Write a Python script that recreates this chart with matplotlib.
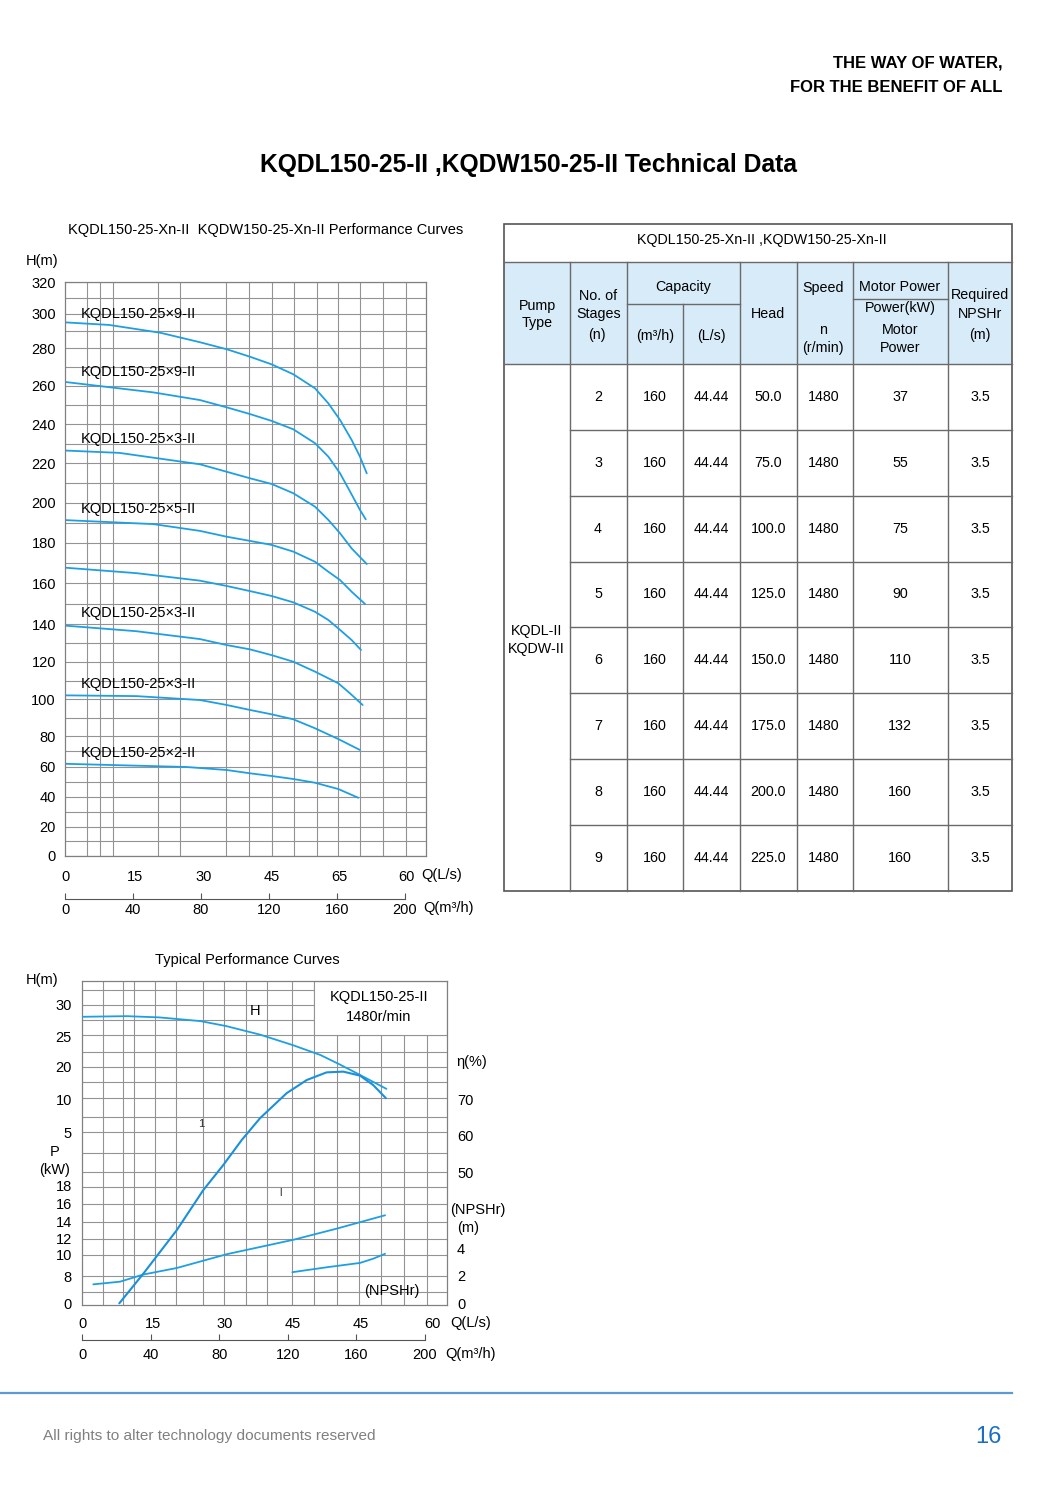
import numpy as np
import matplotlib
matplotlib.use("Agg")
import matplotlib.pyplot as plt
from matplotlib.ticker import FixedLocator, NullLocator
from matplotlib.patches import Rectangle

plt.rcParams['font.family'] = ['Liberation Sans', 'DejaVu Sans']

# ---------------- DATA ----------------
# Top chart: Q (m3/h) vs H (m) for each curve
top_labels = ['KQDL150-25×9-II', 'KQDL150-25×9-II', 'KQDL150-25×3-II', 'KQDL150-25×5-II',
              'KQDL150-25×3-II', 'KQDL150-25×3-II', 'KQDL150-25×2-II']
top_label_h = [300, 267.5, 232.4, 196.7, 145.4, 108.1, 69.1]
c1_q = [0, 26, 56, 79.4, 95.1, 108.8, 121.6, 134.3, 147.1, 154.9, 161.8, 168.6, 173.5, 177.5]
c1_h = [295, 293.5, 289, 283.5, 279.5, 275.5, 271.4, 266.1, 258.6, 250.8, 242.1, 231.9, 223.4, 214.9]
c2_q = [0, 52, 79.4, 95.1, 108.8, 121.6, 134.3, 147.1, 154.9, 161.8, 168.6, 173.5, 176.9]
c2_h = [262, 256.5, 252.5, 248.7, 245.2, 241.6, 237.3, 230.2, 223.4, 214.9, 204.2, 196.4, 191.7]
c3_q = [0, 32, 79.4, 95.1, 108.8, 121.6, 134.3, 147.1, 154.9, 161.8, 168.6, 177.5]
c3_h = [226.5, 225.3, 219.5, 215.7, 212.4, 209.5, 204.8, 198, 191.4, 184.7, 177.2, 169.5]
c4_q = [0, 52, 79.4, 95.1, 108.8, 121.6, 134.3, 147.1, 154.9, 161.8, 168.6, 176.5]
c4_h = [191.3, 189.3, 185.9, 183, 180.9, 178.9, 175.6, 170.6, 165.7, 161.6, 155.9, 149.9]
c5_q = [0, 42, 79.4, 95.1, 108.8, 121.6, 134.3, 147.1, 154.9, 161.8, 168.6, 174.1]
c5_h = [167.7, 165, 161.3, 158.7, 156.2, 153.8, 150.7, 146.1, 142.1, 137, 131.6, 126.3]
c6_q = [0, 42, 79.4, 95.1, 108.8, 121.6, 134.3, 147.1, 160.8, 167.6, 175.1]
c6_h = [139.3, 136.3, 132.1, 128.9, 126.6, 123.5, 120, 114.7, 108.5, 103.2, 96.9]
c7_q = [0, 42, 79.4, 95.1, 108.8, 121.6, 134.3, 147.1, 160.8, 173.5]
c7_h = [102.1, 101.7, 99.6, 96.9, 94.2, 91.8, 89.1, 84.2, 78, 70.9]
c8_q = [0, 71.5, 95.1, 108.8, 121.6, 134.3, 147.1, 160.8, 172.5]
c8_h = [61.9, 59.8, 57.8, 55.6, 53.8, 51.8, 49.3, 45.1, 39.3]
top_h_ticks = [0, 20, 40, 60, 80, 100, 120, 140, 160, 180, 200, 220, 240, 260, 280, 300, 320]
top_ls_labels = ['0', '15', '30', '45', '65', '60']
m3h_ticks = [0, 40, 80, 120, 160, 200]

# Bottom chart (typical curves)
h_q = [0, 26, 45, 69, 84, 104, 123, 139, 150, 162, 177.5]
h_h = [28.1, 28.2, 28.0, 27.4, 26.6, 25.2, 23.5, 21.9, 20.4, 17.5, 13.2]
eta_q = [21.6, 35.6, 55.1, 70.6, 82.3, 93.0, 103.7, 119.3, 131.0, 142.6, 152.3, 162.1, 169.8, 177.2]
eta_v = [0, 11.3, 27.9, 43.2, 52.0, 58.8, 64.8, 71.7, 75.3, 77.4, 77.6, 76.5, 73.9, 70.3]
p_q = [6.4, 22.0, 35.6, 55.1, 84.3, 123.1, 148.5, 176.7]
p_v = [5.7, 6.5, 8.2, 8.8, 10.1, 11.9, 13.2, 14.7]
npsh_q = [122.6, 142.6, 162.1, 169.8, 176.7]
npsh_v = [2.25, 2.62, 2.95, 3.27, 3.64]
bh_ticks = [5, 10, 20, 25, 30]
bp_ticks = [0, 8, 10, 12, 14, 16, 18]
beta_ticks = [50, 60, 70]
bn_ticks = [0, 2, 4]
bot_ls_labels = ['0', '15', '30', '45', '45', '60']

# Table
stages = [2, 3, 4, 5, 6, 7, 8, 9]
cap_m3h = [160] * 8
cap_ls = ['44.44'] * 8
head = ['50.0', '75.0', '100.0', '125.0', '150.0', '175.0', '200.0', '225.0']
speed = [1480] * 8
motor_kw = [37, 55, 75, 90, 110, 132, 160, 160]
npshr = ['3.5'] * 8

# ---------------- LAYOUT ----------------
W, HH = 1055, 1491
fig = plt.figure(figsize=(W / 100, HH / 100), dpi=100)
BLUE = '#1e9fe3'
GRID = '#939393'


def rect(x0, y0, x1, y1):
    return [x0 / W, 1 - y1 / HH, (x1 - x0) / W, (y1 - y0) / HH]


def piecewise(vals, pxs):
    v = np.asarray(vals, float)
    p = np.asarray(pxs, float)
    s0 = (p[1] - p[0]) / (v[1] - v[0])
    s1 = (p[-1] - p[-2]) / (v[-1] - v[-2])

    def fwd(x):
        x = np.asarray(x, float)
        out = np.interp(x, v, p)
        out = np.where(x < v[0], p[0] + (x - v[0]) * s0, out)
        out = np.where(x > v[-1], p[-1] + (x - v[-1]) * s1, out)
        return -out

    def inv(u):
        q = -np.asarray(u, float)
        out = np.interp(q, p[::-1], v[::-1])
        out = np.where(q > p[0], v[0] + (q - p[0]) / s0, out)
        out = np.where(q < p[-1], v[-1] + (q - p[-1]) / s1, out)
        return out
    return fwd, inv


# page axes (pixel coordinates) for text
pg = fig.add_axes([0, 0, 1, 1])
pg.set_xlim(0, W)
pg.set_ylim(HH, 0)
pg.axis('off')

pg.text(1003, 63, 'THE WAY OF WATER,', ha='right', va='center', fontsize=12, fontweight='bold')
pg.text(1003, 87, 'FOR THE BENEFIT OF ALL', ha='right', va='center', fontsize=12,
        fontweight='bold')
pg.text(528, 165, 'KQDL150-25-II ,KQDW150-25-II Technical Data', ha='center', va='center',
        fontsize=17.7, fontweight='bold')

# footer
pg.plot([0, 1012], [1393, 1393], color='#5b9bd5', lw=1.6)
pg.text(43, 1436, 'All rights to alter technology documents reserved', ha='left', va='center',
        fontsize=11.1, color='#808080')
pg.text(988, 1437, '16', ha='center', va='center', fontsize=17, color='#1a6fc4')

# ---------------- TOP CHART ----------------
TX0, TX1, TY0, TY1 = 65, 426, 282.3, 855.7
top_px = [855.7, 826.7, 796.7, 766.7, 736, 699.3, 661.7, 624.3, 583.3, 542.7, 502.7,
          463.3, 424, 385.7, 348.3, 313.7, 282.3]
xmax_top = (TX1 - TX0) / 1.7
axA = fig.add_axes(rect(TX0, TY0, TX1, TY1))
fA, iA = piecewise(top_h_ticks, top_px)
axA.set_yscale('function', functions=(fA, iA))
axA.set_ylim(0, 320)
axA.set_xlim(0, xmax_top)
axA.set_yticks(top_h_ticks)
axA.yaxis.set_minor_locator(FixedLocator(np.arange(0, 321, 10)))
vgrid_top = [12.8, 20.6, 28.1, 41.2, 54.5, 67.6, 81.4, 94.5, 108.2, 121.6, 134.7, 148.1,
             160.8, 173.5, 187.2, 200.4]
axA.set_xticks([0, 41.2, 81.4, 121.9, 161.2, 201.0], labels=top_ls_labels)
axA.xaxis.set_minor_locator(FixedLocator(vgrid_top))
axA.tick_params(which='both', length=0)
axA.tick_params(axis='y', pad=6.5, labelsize=10.5)
axA.tick_params(axis='x', pad=10, labelsize=10.5)
axA.yaxis.grid(True, which='both', color=GRID, lw=0.8)
axA.xaxis.grid(True, which='minor', color=GRID, lw=0.8)
axA.set_axisbelow(True)
for s in axA.spines.values():
    s.set_color('#808080')
    s.set_linewidth(0.9)
for q, h in [(c1_q, c1_h), (c2_q, c2_h), (c3_q, c3_h), (c4_q, c4_h), (c5_q, c5_h),
             (c6_q, c6_h), (c7_q, c7_h), (c8_q, c8_h)]:
    axA.plot(q, h, color=BLUE, lw=1.3, solid_capstyle='round', solid_joinstyle='round')
for lab, yh in zip(top_labels, top_label_h):
    axA.text(9.2, yh, lab, fontsize=10.5, va='center', ha='left')

axB = fig.add_axes(rect(TX0, 880, TX1, 899.3))
axB.set_xlim(0, xmax_top)
axB.patch.set_visible(False)
for k in ['top', 'left', 'right']:
    axB.spines[k].set_visible(False)
axB.spines['bottom'].set_bounds(0, 200)
axB.spines['bottom'].set_color('#555555')
axB.set_yticks([])
axB.set_xticks(m3h_ticks)
axB.tick_params(axis='x', direction='in', length=4, pad=3, labelsize=10.5, color='#555555')

pg.text(421.7, 875, 'Q(L/s)', ha='left', va='center', fontsize=10.5)
pg.text(423, 908, 'Q(m³/h)', ha='left', va='center', fontsize=10.5)
pg.text(42.5, 260.5, 'H(m)', ha='center', va='center', fontsize=10.5)
pg.text(266, 230, 'KQDL150-25-Xn-II  KQDW150-25-Xn-II Performance Curves', ha='center',
        va='center', fontsize=10.5)

# ---------------- BOTTOM CHART ----------------
BX0, BX1, BY0, BY1 = 82.3, 446.7, 981, 1305
xmax_bot = (BX1 - BX0) / 1.7135
axC = fig.add_axes(rect(BX0, BY0, BX1, BY1))
axC.set_xlim(0, xmax_bot)
axC.set_ylim(BY1, BY0)
hgrid_bot = [990, 1005, 1020, 1035, 1051.7, 1066.7, 1082.3, 1098.3, 1116.7, 1132.3, 1153.3,
             1171.7, 1186.7, 1204, 1221.7, 1239, 1255, 1276, 1291.7]
vgrid_bot = [12.0, 24.0, 30.2, 42.4, 54.7, 70.3, 82.9, 95.4, 107.6, 122.6, 135.2, 148.5,
             161.5, 174.1, 187.9, 201.0]
axC.set_yticks([])
axC.yaxis.set_minor_locator(FixedLocator(hgrid_bot))
axC.set_xticks([0, 41.4, 83.1, 123, 162.5, 204.1], labels=bot_ls_labels)
axC.xaxis.set_minor_locator(FixedLocator(vgrid_bot))
axC.tick_params(which='both', length=0)
axC.tick_params(axis='x', pad=9, labelsize=10.5)
axC.yaxis.grid(True, which='minor', color=GRID, lw=0.8)
axC.xaxis.grid(True, which='minor', color=GRID, lw=0.8)
axC.set_axisbelow(True)
for s in axC.spines.values():
    s.set_color('#808080')
    s.set_linewidth(0.9)
axC.add_patch(Rectangle((135.2, BY0), xmax_bot - 135.2, 1035 - BY0, facecolor='white',
                        edgecolor=GRID, lw=0.8, zorder=1.5))


def overlay(vals, pxs, side, ticks, pad):
    ax = fig.add_axes(rect(BX0, BY0, BX1, BY1))
    ax.patch.set_visible(False)
    for s in ax.spines.values():
        s.set_visible(False)
    ax.set_xlim(0, xmax_bot)
    f, i = piecewise(vals, pxs)
    ax.set_yscale('function', functions=(f, i))
    ax.set_ylim(float(i(-BY1)), float(i(-BY0)))
    ax.set_xticks([])
    ax.set_yticks(ticks)
    ax.yaxis.set_minor_locator(NullLocator())
    ax.yaxis.set_ticks_position(side)
    ax.tick_params(axis='y', length=0, pad=pad, labelsize=10.5)
    return ax


axH = overlay([5, 10, 20, 25, 30], [1132.3, 1099.3, 1066.7, 1036, 1005], 'left', bh_ticks, 7.5)
axP = overlay([0, 8, 10, 12, 14, 16, 18], [1303.3, 1276.7, 1255, 1239, 1221.7, 1203.3, 1185.7],
              'left', bp_ticks, 7.5)
axE = overlay([0, 50, 60, 70], [1303.3, 1172.3, 1135.7, 1099.3], 'right', beta_ticks, 7.5)
axN = overlay([0, 2, 4], [1303.3, 1275.5, 1249], 'right', bn_ticks, 7.5)

kw = dict(solid_joinstyle='round', solid_capstyle='round')
axH.plot(h_q, h_h, color=BLUE, lw=1.3, **kw)
axE.plot(eta_q, eta_v, color='#1a90dc', lw=1.5, **kw)
axP.plot(p_q, p_v, color=BLUE, lw=1.3, **kw)
axN.plot(npsh_q, npsh_v, color=BLUE, lw=1.3, **kw)

axD = fig.add_axes(rect(BX0, 1322, BX1, 1340))
axD.set_xlim(0, xmax_bot)
axD.patch.set_visible(False)
for k in ['top', 'left', 'right']:
    axD.spines[k].set_visible(False)
axD.spines['bottom'].set_bounds(0, 200)
axD.spines['bottom'].set_color('#555555')
axD.set_yticks([])
axD.set_xticks(m3h_ticks)
axD.tick_params(axis='x', direction='in', length=4, pad=5.5, labelsize=10.5, color='#555555')

pg.text(247.5, 960, 'Typical Performance Curves', ha='center', va='center', fontsize=10.5)
pg.text(42, 980, 'H(m)', ha='center', va='center', fontsize=10.5)
pg.text(55, 1152, 'P', ha='center', va='center', fontsize=10.5)
pg.text(55, 1170, '(kW)', ha='center', va='center', fontsize=10.5)
pg.text(456.7, 1062, 'η(%)', ha='left', va='center', fontsize=10.5)
pg.text(450, 1210, '(NPSHr)', ha='left', va='center', fontsize=10.5)
pg.text(456.7, 1228, '(m)', ha='left', va='center', fontsize=10.5)
pg.text(450, 1323, 'Q(L/s)', ha='left', va='center', fontsize=10.5)
pg.text(445, 1354, 'Q(m³/h)', ha='left', va='center', fontsize=10.5)

# texts inside the bottom chart (drawn above the overlay axes)
tx = fig.add_axes([0, 0, 1, 1])
tx.set_xlim(0, W)
tx.set_ylim(HH, 0)
tx.axis('off')
tx.text(379, 997, 'KQDL150-25-II', ha='center', va='center', fontsize=10.5)
tx.text(379, 1017, '1480r/min', ha='center', va='center', fontsize=10.5)
tx.text(255, 1011, 'H', ha='center', va='center', fontsize=10.5)
tx.text(391.7, 1290.7, '(NPSHr)', ha='center', va='center', fontsize=10.5)
tx.text(201.7, 1124, '1', ha='center', va='center', fontsize=8, color='#333333')
tx.text(280, 1193, 'l', ha='center', va='center', fontsize=8, color='#333333')

# ---------------- TABLE ----------------
L, R, T, T1, HB, B = 504, 1011.7, 224, 261.7, 364, 890.7
cols = [570, 626.7, 683.3, 740, 796.7, 853, 948.3]
LC = '#6a6a6a'
tx.add_patch(Rectangle((L, T1), R - L, HB - T1, facecolor='#d7ebf8', edgecolor='none'))
tx.add_patch(Rectangle((L, T), R - L, B - T, facecolor='none', edgecolor='#555555', lw=1.2))
tx.plot([L, R], [T1, T1], color=LC, lw=1)
tx.plot([L, R], [HB, HB], color=LC, lw=1)
for c in cols:
    y0 = 304 if c == 683.3 else T1
    tx.plot([c, c], [y0, B], color=LC, lw=1)
tx.plot([626.7, 740], [304, 304], color=LC, lw=1)
tx.plot([853, 948.3], [299.3, 299.3], color=LC, lw=1)
rh = (B - HB) / len(stages)
for k in range(1, len(stages)):
    tx.plot([570, R], [HB + k * rh, HB + k * rh], color=LC, lw=1)

fs = 10.3
tx.text(762, 240, 'KQDL150-25-Xn-II ,KQDW150-25-Xn-II', ha='center', va='center', fontsize=fs)
hdr = [(537.3, 306, 'Pump'), (537.3, 323.3, 'Type'),
       (598.3, 296, 'No. of'), (598.3, 314.3, 'Stages'), (597.3, 335, '(n)'),
       (682.7, 286.7, 'Capacity'), (655, 336, '(m³/h)'), (711.7, 336, '(L/s)'),
       (768.3, 314.3, 'Head'),
       (823.3, 288.3, 'Speed'), (823.3, 330, 'n'), (823.3, 348.3, '(r/min)'),
       (900, 286.7, 'Motor Power'), (900, 308.3, 'Power(kW)'), (900, 330, 'Motor'),
       (900, 347.7, 'Power'),
       (980, 295, 'Required'), (980, 314.3, 'NPSHr'), (980, 335, '(m)')]
for x, y, t in hdr:
    tx.text(x, y, t, ha='center', va='center', fontsize=fs)
tx.text(536.7, 631, 'KQDL-II', ha='center', va='center', fontsize=fs)
tx.text(536.7, 649, 'KQDW-II', ha='center', va='center', fontsize=fs)
xs = [598, 655, 711.7, 768.3, 824, 900, 980]
for k in range(len(stages)):
    y = HB + (k + 0.5) * rh
    row = [stages[k], cap_m3h[k], cap_ls[k], head[k], speed[k], motor_kw[k], npshr[k]]
    for x, v in zip(xs, row):
        tx.text(x, y, str(v), ha='center', va='center', fontsize=fs)

fig.savefig('out.png', dpi=100)
